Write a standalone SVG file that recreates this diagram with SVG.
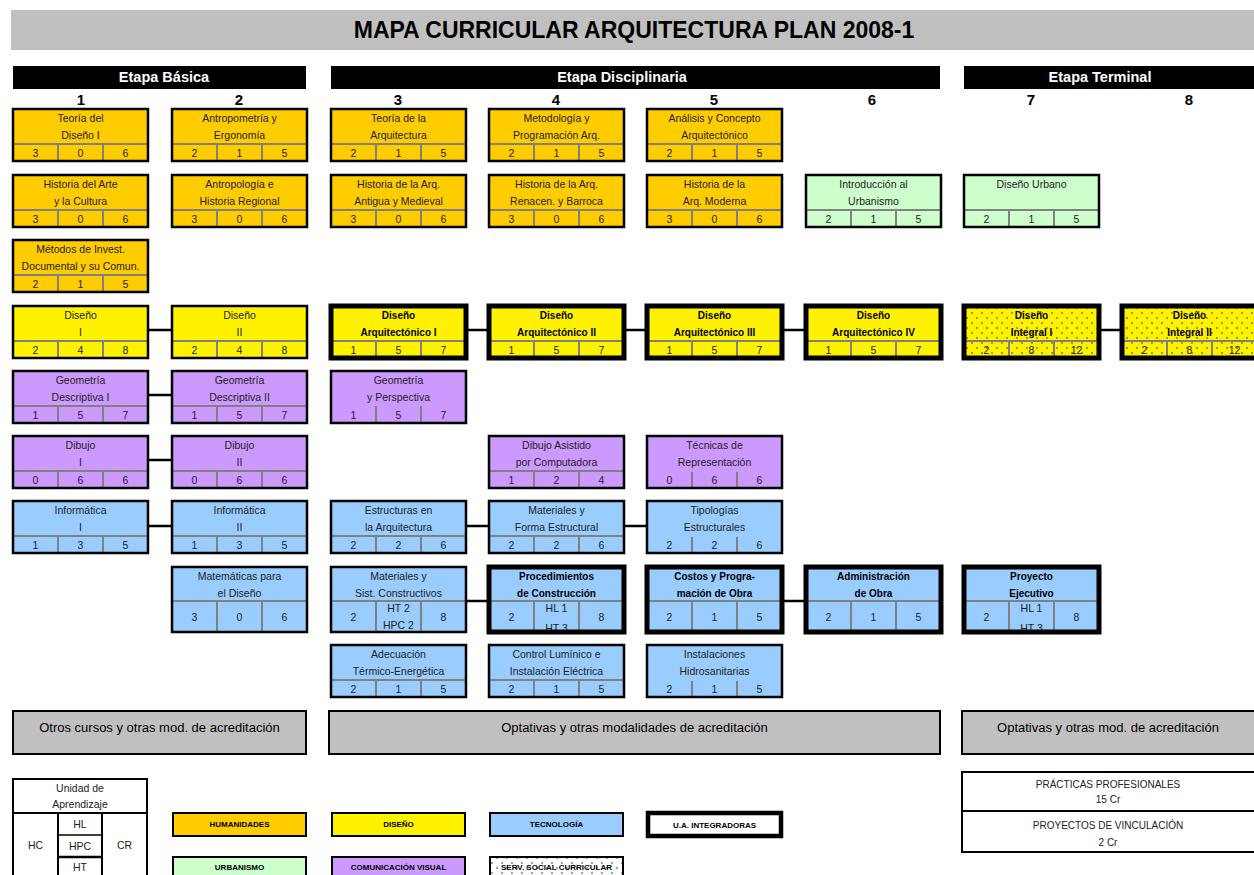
<svg xmlns="http://www.w3.org/2000/svg" width="1254" height="875" viewBox="0 0 1254 875">
<defs>
<pattern id="dots" width="10" height="10" patternUnits="userSpaceOnUse">
<circle cx="2" cy="3" r="0.7" fill="#000"/>
<circle cx="7" cy="8" r="0.7" fill="#000"/>
</pattern>
</defs>
<style>
.hum{fill:#FFCC00}
.dis{fill:#FFF200}
.urb{fill:#CCFFCC}
.com{fill:#CC99FF}
.tec{fill:#99CCFF}
.wht{fill:#FFFFFF}
.gry{fill:#C0C0C0}
.bd{fill:none;stroke:#000;stroke-width:2.5}
.bdk{fill:none;stroke:#000;stroke-width:5}
.dv{stroke:#808080;stroke-width:2}
.t{font-family:"Liberation Sans",Arial,sans-serif;font-size:10.5px;fill:#222;text-anchor:middle}
.tb{font-family:"Liberation Sans",Arial,sans-serif;font-size:10px;font-weight:bold;fill:#000;text-anchor:middle}
.hd{font-family:"Liberation Sans",Arial,sans-serif;font-size:14.5px;font-weight:bold;fill:#fff;text-anchor:middle}
.cn{font-family:"Liberation Sans",Arial,sans-serif;font-size:15px;font-weight:bold;fill:#000;text-anchor:middle}
.op{font-family:"Liberation Sans",Arial,sans-serif;font-size:13px;fill:#000;text-anchor:middle}
.lg{font-family:"Liberation Sans",Arial,sans-serif;font-size:8px;font-weight:bold;fill:#000;text-anchor:middle}
.sm{font-family:"Liberation Sans",Arial,sans-serif;font-size:10px;fill:#222;text-anchor:middle}
.cl{stroke:#000;stroke-width:2.5}
</style>
<rect width="1254" height="875" fill="#fff"/>

<g id="title">
<rect x="11" y="10" width="1243" height="40" class="gry"/>
<text x="634" y="38" font-family="Liberation Sans, Arial, sans-serif" font-size="23" font-weight="bold" text-anchor="middle" fill="#000">MAPA CURRICULAR ARQUITECTURA PLAN 2008-1</text>
</g>

<g id="stages">
<rect x="13" y="66" width="293" height="23" fill="#000"/>
<text x="164" y="82" class="hd">Etapa Básica</text>
<rect x="331" y="66" width="609" height="23" fill="#000"/>
<text x="622" y="82" class="hd">Etapa Disciplinaria</text>
<rect x="964" y="66" width="290" height="23" fill="#000"/>
<text x="1100" y="82" class="hd">Etapa Terminal</text>
</g>

<g id="semesters">
<text x="81" y="105" class="cn">1</text>
<text x="239" y="105" class="cn">2</text>
<text x="398" y="105" class="cn">3</text>
<text x="556" y="105" class="cn">4</text>
<text x="714" y="105" class="cn">5</text>
<text x="872" y="105" class="cn">6</text>
<text x="1031" y="105" class="cn">7</text>
<text x="1189" y="105" class="cn">8</text>
</g>

<g id="connectors">
<line x1="148" y1="330" x2="172" y2="330" class="cl"/>
<line x1="148" y1="395" x2="172" y2="395" class="cl"/>
<line x1="148" y1="460" x2="172" y2="460" class="cl"/>
<line x1="148" y1="526" x2="172" y2="526" class="cl"/>
<line x1="466" y1="330" x2="489" y2="330" class="cl"/>
<line x1="624" y1="330" x2="647" y2="330" class="cl"/>
<line x1="782" y1="330" x2="806" y2="330" class="cl"/>
<line x1="1099" y1="330" x2="1122" y2="330" class="cl"/>
<line x1="466" y1="526" x2="489" y2="526" class="cl"/>
<line x1="624" y1="526" x2="647" y2="526" class="cl"/>
<line x1="466" y1="601" x2="489" y2="601" class="cl"/>
<line x1="782" y1="601" x2="806" y2="601" class="cl"/>
</g>

<!-- Column 1 -->
<g id="teoria-diseno-1">
<rect x="13" y="109" width="135" height="52" class="hum"/>
<text x="80.5" y="122" class="t">Teoría del</text><text x="80.5" y="139" class="t">Diseño I</text>
<line x1="13" y1="144" x2="148" y2="144" class="dv"/><line x1="58" y1="144" x2="58" y2="161" class="dv"/><line x1="103" y1="144" x2="103" y2="161" class="dv"/>
<text x="35.5" y="157" class="t">3</text><text x="80.5" y="157" class="t">0</text><text x="125.5" y="157" class="t">6</text>
<rect x="13" y="109" width="135" height="52" class="bd"/>
</g>
<g id="historia-arte">
<rect x="13" y="175" width="135" height="52" class="hum"/>
<text x="80.5" y="188" class="t">Historia del Arte</text><text x="80.5" y="205" class="t">y la Cultura</text>
<line x1="13" y1="210" x2="148" y2="210" class="dv"/><line x1="58" y1="210" x2="58" y2="227" class="dv"/><line x1="103" y1="210" x2="103" y2="227" class="dv"/>
<text x="35.5" y="223" class="t">3</text><text x="80.5" y="223" class="t">0</text><text x="125.5" y="223" class="t">6</text>
<rect x="13" y="175" width="135" height="52" class="bd"/>
</g>
<g id="metodos-invest">
<rect x="13" y="240" width="135" height="52" class="hum"/>
<text x="80.5" y="253" class="t">Métodos de Invest.</text><text x="80.5" y="270" class="t">Documental y su Comun.</text>
<line x1="13" y1="275" x2="148" y2="275" class="dv"/><line x1="58" y1="275" x2="58" y2="292" class="dv"/><line x1="103" y1="275" x2="103" y2="292" class="dv"/>
<text x="35.5" y="288" class="t">2</text><text x="80.5" y="288" class="t">1</text><text x="125.5" y="288" class="t">5</text>
<rect x="13" y="240" width="135" height="52" class="bd"/>
</g>
<g id="diseno-1">
<rect x="13" y="306" width="135" height="52" class="dis"/>
<text x="80.5" y="319" class="t">Diseño</text><text x="80.5" y="336" class="t">I</text>
<line x1="13" y1="341" x2="148" y2="341" class="dv"/><line x1="58" y1="341" x2="58" y2="358" class="dv"/><line x1="103" y1="341" x2="103" y2="358" class="dv"/>
<text x="35.5" y="354" class="t">2</text><text x="80.5" y="354" class="t">4</text><text x="125.5" y="354" class="t">8</text>
<rect x="13" y="306" width="135" height="52" class="bd"/>
</g>
<g id="geometria-1">
<rect x="13" y="371" width="135" height="52" class="com"/>
<text x="80.5" y="384" class="t">Geometría</text><text x="80.5" y="401" class="t">Descriptiva I</text>
<line x1="13" y1="406" x2="148" y2="406" class="dv"/><line x1="58" y1="406" x2="58" y2="423" class="dv"/><line x1="103" y1="406" x2="103" y2="423" class="dv"/>
<text x="35.5" y="419" class="t">1</text><text x="80.5" y="419" class="t">5</text><text x="125.5" y="419" class="t">7</text>
<rect x="13" y="371" width="135" height="52" class="bd"/>
</g>
<g id="dibujo-1">
<rect x="13" y="436" width="135" height="52" class="com"/>
<text x="80.5" y="449" class="t">Dibujo</text><text x="80.5" y="466" class="t">I</text>
<line x1="13" y1="471" x2="148" y2="471" class="dv"/><line x1="58" y1="471" x2="58" y2="488" class="dv"/><line x1="103" y1="471" x2="103" y2="488" class="dv"/>
<text x="35.5" y="484" class="t">0</text><text x="80.5" y="484" class="t">6</text><text x="125.5" y="484" class="t">6</text>
<rect x="13" y="436" width="135" height="52" class="bd"/>
</g>
<g id="informatica-1">
<rect x="13" y="501" width="135" height="52" class="tec"/>
<text x="80.5" y="514" class="t">Informática</text><text x="80.5" y="531" class="t">I</text>
<line x1="13" y1="536" x2="148" y2="536" class="dv"/><line x1="58" y1="536" x2="58" y2="553" class="dv"/><line x1="103" y1="536" x2="103" y2="553" class="dv"/>
<text x="35.5" y="549" class="t">1</text><text x="80.5" y="549" class="t">3</text><text x="125.5" y="549" class="t">5</text>
<rect x="13" y="501" width="135" height="52" class="bd"/>
</g>

<!-- Column 2 -->
<g id="antropometria">
<rect x="172" y="109" width="135" height="52" class="hum"/>
<text x="239.5" y="122" class="t">Antropometría y</text><text x="239.5" y="139" class="t">Ergonomía</text>
<line x1="172" y1="144" x2="307" y2="144" class="dv"/><line x1="217" y1="144" x2="217" y2="161" class="dv"/><line x1="262" y1="144" x2="262" y2="161" class="dv"/>
<text x="194.5" y="157" class="t">2</text><text x="239.5" y="157" class="t">1</text><text x="284.5" y="157" class="t">5</text>
<rect x="172" y="109" width="135" height="52" class="bd"/>
</g>
<g id="antropologia">
<rect x="172" y="175" width="135" height="52" class="hum"/>
<text x="239.5" y="188" class="t">Antropología e</text><text x="239.5" y="205" class="t">Historia Regional</text>
<line x1="172" y1="210" x2="307" y2="210" class="dv"/><line x1="217" y1="210" x2="217" y2="227" class="dv"/><line x1="262" y1="210" x2="262" y2="227" class="dv"/>
<text x="194.5" y="223" class="t">3</text><text x="239.5" y="223" class="t">0</text><text x="284.5" y="223" class="t">6</text>
<rect x="172" y="175" width="135" height="52" class="bd"/>
</g>
<g id="diseno-2">
<rect x="172" y="306" width="135" height="52" class="dis"/>
<text x="239.5" y="319" class="t">Diseño</text><text x="239.5" y="336" class="t">II</text>
<line x1="172" y1="341" x2="307" y2="341" class="dv"/><line x1="217" y1="341" x2="217" y2="358" class="dv"/><line x1="262" y1="341" x2="262" y2="358" class="dv"/>
<text x="194.5" y="354" class="t">2</text><text x="239.5" y="354" class="t">4</text><text x="284.5" y="354" class="t">8</text>
<rect x="172" y="306" width="135" height="52" class="bd"/>
</g>
<g id="geometria-2">
<rect x="172" y="371" width="135" height="52" class="com"/>
<text x="239.5" y="384" class="t">Geometría</text><text x="239.5" y="401" class="t">Descriptiva II</text>
<line x1="172" y1="406" x2="307" y2="406" class="dv"/><line x1="217" y1="406" x2="217" y2="423" class="dv"/><line x1="262" y1="406" x2="262" y2="423" class="dv"/>
<text x="194.5" y="419" class="t">1</text><text x="239.5" y="419" class="t">5</text><text x="284.5" y="419" class="t">7</text>
<rect x="172" y="371" width="135" height="52" class="bd"/>
</g>
<g id="dibujo-2">
<rect x="172" y="436" width="135" height="52" class="com"/>
<text x="239.5" y="449" class="t">Dibujo</text><text x="239.5" y="466" class="t">II</text>
<line x1="172" y1="471" x2="307" y2="471" class="dv"/><line x1="217" y1="471" x2="217" y2="488" class="dv"/><line x1="262" y1="471" x2="262" y2="488" class="dv"/>
<text x="194.5" y="484" class="t">0</text><text x="239.5" y="484" class="t">6</text><text x="284.5" y="484" class="t">6</text>
<rect x="172" y="436" width="135" height="52" class="bd"/>
</g>
<g id="informatica-2">
<rect x="172" y="501" width="135" height="52" class="tec"/>
<text x="239.5" y="514" class="t">Informática</text><text x="239.5" y="531" class="t">II</text>
<line x1="172" y1="536" x2="307" y2="536" class="dv"/><line x1="217" y1="536" x2="217" y2="553" class="dv"/><line x1="262" y1="536" x2="262" y2="553" class="dv"/>
<text x="194.5" y="549" class="t">1</text><text x="239.5" y="549" class="t">3</text><text x="284.5" y="549" class="t">5</text>
<rect x="172" y="501" width="135" height="52" class="bd"/>
</g>
<g id="matematicas">
<rect x="172" y="567" width="135" height="65" class="tec"/>
<text x="239.5" y="580" class="t">Matemáticas para</text><text x="239.5" y="597" class="t">el Diseño</text>
<line x1="172" y1="601" x2="307" y2="601" class="dv"/><line x1="217" y1="601" x2="217" y2="632" class="dv"/><line x1="262" y1="601" x2="262" y2="632" class="dv"/>
<text x="194.5" y="621" class="t">3</text><text x="239.5" y="621" class="t">0</text><text x="284.5" y="621" class="t">6</text>
<rect x="172" y="567" width="135" height="65" class="bd"/>
</g>

<!-- Column 3 -->
<g id="teoria-arq">
<rect x="331" y="109" width="135" height="52" class="hum"/>
<text x="398.5" y="122" class="t">Teoría de la</text><text x="398.5" y="139" class="t">Arquitectura</text>
<line x1="331" y1="144" x2="466" y2="144" class="dv"/><line x1="376" y1="144" x2="376" y2="161" class="dv"/><line x1="421" y1="144" x2="421" y2="161" class="dv"/>
<text x="353.5" y="157" class="t">2</text><text x="398.5" y="157" class="t">1</text><text x="443.5" y="157" class="t">5</text>
<rect x="331" y="109" width="135" height="52" class="bd"/>
</g>
<g id="historia-arq-antigua">
<rect x="331" y="175" width="135" height="52" class="hum"/>
<text x="398.5" y="188" class="t">Historia de la Arq.</text><text x="398.5" y="205" class="t">Antigua y Medieval</text>
<line x1="331" y1="210" x2="466" y2="210" class="dv"/><line x1="376" y1="210" x2="376" y2="227" class="dv"/><line x1="421" y1="210" x2="421" y2="227" class="dv"/>
<text x="353.5" y="223" class="t">3</text><text x="398.5" y="223" class="t">0</text><text x="443.5" y="223" class="t">6</text>
<rect x="331" y="175" width="135" height="52" class="bd"/>
</g>
<g id="diseno-arq-1">
<rect x="331" y="306" width="135" height="52" class="dis"/>
<text x="398.5" y="319" class="tb">Diseño</text><text x="398.5" y="336" class="tb">Arquitectónico I</text>
<line x1="331" y1="341" x2="466" y2="341" class="dv"/><line x1="376" y1="341" x2="376" y2="358" class="dv"/><line x1="421" y1="341" x2="421" y2="358" class="dv"/>
<text x="353.5" y="354" class="t">1</text><text x="398.5" y="354" class="t">5</text><text x="443.5" y="354" class="t">7</text>
<rect x="331" y="306" width="135" height="52" class="bdk"/>
</g>
<g id="geometria-perspectiva">
<rect x="331" y="371" width="135" height="52" class="com"/>
<text x="398.5" y="384" class="t">Geometría</text><text x="398.5" y="401" class="t">y Perspectiva</text>
<line x1="376" y1="406" x2="376" y2="423" class="dv"/><line x1="421" y1="406" x2="421" y2="423" class="dv"/>
<text x="353.5" y="419" class="t">1</text><text x="398.5" y="419" class="t">5</text><text x="443.5" y="419" class="t">7</text>
<rect x="331" y="371" width="135" height="52" class="bd"/>
</g>
<g id="estructuras-arq">
<rect x="331" y="501" width="135" height="52" class="tec"/>
<text x="398.5" y="514" class="t">Estructuras en</text><text x="398.5" y="531" class="t">la Arquitectura</text>
<line x1="331" y1="536" x2="466" y2="536" class="dv"/><line x1="376" y1="536" x2="376" y2="553" class="dv"/><line x1="421" y1="536" x2="421" y2="553" class="dv"/>
<text x="353.5" y="549" class="t">2</text><text x="398.5" y="549" class="t">2</text><text x="443.5" y="549" class="t">6</text>
<rect x="331" y="501" width="135" height="52" class="bd"/>
</g>
<g id="materiales-sist">
<rect x="331" y="567" width="135" height="65" class="tec"/>
<text x="398.5" y="580" class="t">Materiales y</text><text x="398.5" y="597" class="t">Sist. Constructivos</text>
<text x="398.5" y="612" class="t">HT 2</text><text x="398.5" y="629" class="t">HPC 2</text>
<line x1="331" y1="601" x2="466" y2="601" class="dv"/><line x1="376" y1="601" x2="376" y2="632" class="dv"/><line x1="421" y1="601" x2="421" y2="632" class="dv"/>
<text x="353.5" y="621" class="t">2</text><text x="443.5" y="621" class="t">8</text>
<rect x="331" y="567" width="135" height="65" class="bd"/>
</g>
<g id="adecuacion">
<rect x="331" y="645" width="135" height="52" class="tec"/>
<text x="398.5" y="658" class="t">Adecuación</text><text x="398.5" y="675" class="t">Térmico-Energética</text>
<line x1="331" y1="680" x2="466" y2="680" class="dv"/><line x1="376" y1="680" x2="376" y2="697" class="dv"/><line x1="421" y1="680" x2="421" y2="697" class="dv"/>
<text x="353.5" y="693" class="t">2</text><text x="398.5" y="693" class="t">1</text><text x="443.5" y="693" class="t">5</text>
<rect x="331" y="645" width="135" height="52" class="bd"/>
</g>

<!-- Column 4 -->
<g id="metodologia">
<rect x="489" y="109" width="135" height="52" class="hum"/>
<text x="556.5" y="122" class="t">Metodología y</text><text x="556.5" y="139" class="t">Programación Arq.</text>
<line x1="489" y1="144" x2="624" y2="144" class="dv"/><line x1="534" y1="144" x2="534" y2="161" class="dv"/><line x1="579" y1="144" x2="579" y2="161" class="dv"/>
<text x="511.5" y="157" class="t">2</text><text x="556.5" y="157" class="t">1</text><text x="601.5" y="157" class="t">5</text>
<rect x="489" y="109" width="135" height="52" class="bd"/>
</g>
<g id="historia-arq-renacen">
<rect x="489" y="175" width="135" height="52" class="hum"/>
<text x="556.5" y="188" class="t">Historia de la Arq.</text><text x="556.5" y="205" class="t">Renacen. y Barroca</text>
<line x1="489" y1="210" x2="624" y2="210" class="dv"/><line x1="534" y1="210" x2="534" y2="227" class="dv"/><line x1="579" y1="210" x2="579" y2="227" class="dv"/>
<text x="511.5" y="223" class="t">3</text><text x="556.5" y="223" class="t">0</text><text x="601.5" y="223" class="t">6</text>
<rect x="489" y="175" width="135" height="52" class="bd"/>
</g>
<g id="diseno-arq-2">
<rect x="489" y="306" width="135" height="52" class="dis"/>
<text x="556.5" y="319" class="tb">Diseño</text><text x="556.5" y="336" class="tb">Arquitectónico II</text>
<line x1="489" y1="341" x2="624" y2="341" class="dv"/><line x1="534" y1="341" x2="534" y2="358" class="dv"/><line x1="579" y1="341" x2="579" y2="358" class="dv"/>
<text x="511.5" y="354" class="t">1</text><text x="556.5" y="354" class="t">5</text><text x="601.5" y="354" class="t">7</text>
<rect x="489" y="306" width="135" height="52" class="bdk"/>
</g>
<g id="dibujo-asistido">
<rect x="489" y="436" width="135" height="52" class="com"/>
<text x="556.5" y="449" class="t">Dibujo Asistido</text><text x="556.5" y="466" class="t">por Computadora</text>
<line x1="489" y1="471" x2="624" y2="471" class="dv"/><line x1="534" y1="471" x2="534" y2="488" class="dv"/><line x1="579" y1="471" x2="579" y2="488" class="dv"/>
<text x="511.5" y="484" class="t">1</text><text x="556.5" y="484" class="t">2</text><text x="601.5" y="484" class="t">4</text>
<rect x="489" y="436" width="135" height="52" class="bd"/>
</g>
<g id="materiales-forma">
<rect x="489" y="501" width="135" height="52" class="tec"/>
<text x="556.5" y="514" class="t">Materiales y</text><text x="556.5" y="531" class="t">Forma Estructural</text>
<line x1="489" y1="536" x2="624" y2="536" class="dv"/><line x1="534" y1="536" x2="534" y2="553" class="dv"/><line x1="579" y1="536" x2="579" y2="553" class="dv"/>
<text x="511.5" y="549" class="t">2</text><text x="556.5" y="549" class="t">2</text><text x="601.5" y="549" class="t">6</text>
<rect x="489" y="501" width="135" height="52" class="bd"/>
</g>
<g id="procedimientos">
<rect x="489" y="567" width="135" height="65" class="tec"/>
<text x="556.5" y="580" class="tb">Procedimientos</text><text x="556.5" y="597" class="tb">de Construcción</text>
<text x="556.5" y="612" class="t">HL 1</text><text x="556.5" y="632" class="t">HT 3</text>
<line x1="489" y1="601" x2="624" y2="601" class="dv"/><line x1="534" y1="601" x2="534" y2="632" class="dv"/><line x1="579" y1="601" x2="579" y2="632" class="dv"/>
<text x="511.5" y="621" class="t">2</text><text x="601.5" y="621" class="t">8</text>
<rect x="489" y="567" width="135" height="65" class="bdk"/>
</g>
<g id="control-luminico">
<rect x="489" y="645" width="135" height="52" class="tec"/>
<text x="556.5" y="658" class="t">Control Lumínico e</text><text x="556.5" y="675" class="t">Instalación Eléctrica</text>
<line x1="489" y1="680" x2="624" y2="680" class="dv"/><line x1="534" y1="680" x2="534" y2="697" class="dv"/><line x1="579" y1="680" x2="579" y2="697" class="dv"/>
<text x="511.5" y="693" class="t">2</text><text x="556.5" y="693" class="t">1</text><text x="601.5" y="693" class="t">5</text>
<rect x="489" y="645" width="135" height="52" class="bd"/>
</g>

<!-- Column 5 -->
<g id="analisis-concepto">
<rect x="647" y="109" width="135" height="52" class="hum"/>
<text x="714.5" y="122" class="t">Análisis y Concepto</text><text x="714.5" y="139" class="t">Arquitectónico</text>
<line x1="647" y1="144" x2="782" y2="144" class="dv"/><line x1="692" y1="144" x2="692" y2="161" class="dv"/><line x1="737" y1="144" x2="737" y2="161" class="dv"/>
<text x="669.5" y="157" class="t">2</text><text x="714.5" y="157" class="t">1</text><text x="759.5" y="157" class="t">5</text>
<rect x="647" y="109" width="135" height="52" class="bd"/>
</g>
<g id="historia-arq-moderna">
<rect x="647" y="175" width="135" height="52" class="hum"/>
<text x="714.5" y="188" class="t">Historia de la</text><text x="714.5" y="205" class="t">Arq. Moderna</text>
<line x1="647" y1="210" x2="782" y2="210" class="dv"/><line x1="692" y1="210" x2="692" y2="227" class="dv"/><line x1="737" y1="210" x2="737" y2="227" class="dv"/>
<text x="669.5" y="223" class="t">3</text><text x="714.5" y="223" class="t">0</text><text x="759.5" y="223" class="t">6</text>
<rect x="647" y="175" width="135" height="52" class="bd"/>
</g>
<g id="diseno-arq-3">
<rect x="647" y="306" width="135" height="52" class="dis"/>
<text x="714.5" y="319" class="tb">Diseño</text><text x="714.5" y="336" class="tb">Arquitectónico III</text>
<line x1="647" y1="341" x2="782" y2="341" class="dv"/><line x1="692" y1="341" x2="692" y2="358" class="dv"/><line x1="737" y1="341" x2="737" y2="358" class="dv"/>
<text x="669.5" y="354" class="t">1</text><text x="714.5" y="354" class="t">5</text><text x="759.5" y="354" class="t">7</text>
<rect x="647" y="306" width="135" height="52" class="bdk"/>
</g>
<g id="tecnicas-representacion">
<rect x="647" y="436" width="135" height="52" class="com"/>
<text x="714.5" y="449" class="t">Técnicas de</text><text x="714.5" y="466" class="t">Representación</text>
<line x1="692" y1="472" x2="692" y2="488" class="dv"/><line x1="737" y1="472" x2="737" y2="488" class="dv"/>
<text x="669.5" y="484" class="t">0</text><text x="714.5" y="484" class="t">6</text><text x="759.5" y="484" class="t">6</text>
<rect x="647" y="436" width="135" height="52" class="bd"/>
</g>
<g id="tipologias">
<rect x="647" y="501" width="135" height="52" class="tec"/>
<text x="714.5" y="514" class="t">Tipologías</text><text x="714.5" y="531" class="t">Estructurales</text>
<line x1="692" y1="537" x2="692" y2="553" class="dv"/><line x1="737" y1="537" x2="737" y2="553" class="dv"/>
<text x="669.5" y="549" class="t">2</text><text x="714.5" y="549" class="t">2</text><text x="759.5" y="549" class="t">6</text>
<rect x="647" y="501" width="135" height="52" class="bd"/>
</g>
<g id="costos">
<rect x="647" y="567" width="135" height="65" class="tec"/>
<text x="714.5" y="580" class="tb">Costos y Progra-</text><text x="714.5" y="597" class="tb">mación de Obra</text>
<line x1="647" y1="601" x2="782" y2="601" class="dv"/><line x1="692" y1="601" x2="692" y2="632" class="dv"/><line x1="737" y1="601" x2="737" y2="632" class="dv"/>
<text x="669.5" y="621" class="t">2</text><text x="714.5" y="621" class="t">1</text><text x="759.5" y="621" class="t">5</text>
<rect x="647" y="567" width="135" height="65" class="bdk"/>
</g>
<g id="instalaciones">
<rect x="647" y="645" width="135" height="52" class="tec"/>
<text x="714.5" y="658" class="t">Instalaciones</text><text x="714.5" y="675" class="t">Hidrosanitarias</text>
<line x1="692" y1="681" x2="692" y2="697" class="dv"/><line x1="737" y1="681" x2="737" y2="697" class="dv"/>
<text x="669.5" y="693" class="t">2</text><text x="714.5" y="693" class="t">1</text><text x="759.5" y="693" class="t">5</text>
<rect x="647" y="645" width="135" height="52" class="bd"/>
</g>

<!-- Column 6 -->
<g id="intro-urbanismo">
<rect x="806" y="175" width="135" height="52" class="urb"/>
<text x="873.5" y="188" class="t">Introducción al</text><text x="873.5" y="205" class="t">Urbanismo</text>
<line x1="806" y1="210" x2="941" y2="210" class="dv"/><line x1="851" y1="210" x2="851" y2="227" class="dv"/><line x1="896" y1="210" x2="896" y2="227" class="dv"/>
<text x="828.5" y="223" class="t">2</text><text x="873.5" y="223" class="t">1</text><text x="918.5" y="223" class="t">5</text>
<rect x="806" y="175" width="135" height="52" class="bd"/>
</g>
<g id="diseno-arq-4">
<rect x="806" y="306" width="135" height="52" class="dis"/>
<text x="873.5" y="319" class="tb">Diseño</text><text x="873.5" y="336" class="tb">Arquitectónico IV</text>
<line x1="806" y1="341" x2="941" y2="341" class="dv"/><line x1="851" y1="341" x2="851" y2="358" class="dv"/><line x1="896" y1="341" x2="896" y2="358" class="dv"/>
<text x="828.5" y="354" class="t">1</text><text x="873.5" y="354" class="t">5</text><text x="918.5" y="354" class="t">7</text>
<rect x="806" y="306" width="135" height="52" class="bdk"/>
</g>
<g id="administracion">
<rect x="806" y="567" width="135" height="65" class="tec"/>
<text x="873.5" y="580" class="tb">Administración</text><text x="873.5" y="597" class="tb">de Obra</text>
<line x1="806" y1="601" x2="941" y2="601" class="dv"/><line x1="851" y1="601" x2="851" y2="632" class="dv"/><line x1="896" y1="601" x2="896" y2="632" class="dv"/>
<text x="828.5" y="621" class="t">2</text><text x="873.5" y="621" class="t">1</text><text x="918.5" y="621" class="t">5</text>
<rect x="806" y="567" width="135" height="65" class="bdk"/>
</g>

<!-- Column 7 -->
<g id="diseno-urbano">
<rect x="964" y="175" width="135" height="52" class="urb"/>
<text x="1031.5" y="188" class="t">Diseño Urbano</text>
<line x1="964" y1="210" x2="1099" y2="210" class="dv"/><line x1="1009" y1="210" x2="1009" y2="227" class="dv"/><line x1="1054" y1="210" x2="1054" y2="227" class="dv"/>
<text x="986.5" y="223" class="t">2</text><text x="1031.5" y="223" class="t">1</text><text x="1076.5" y="223" class="t">5</text>
<rect x="964" y="175" width="135" height="52" class="bd"/>
</g>
<g id="diseno-integral-1">
<rect x="964" y="306" width="135" height="52" class="dis"/>
<rect x="964" y="306" width="135" height="52" fill="url(#dots)"/>
<text x="1031.5" y="319" class="tb">Diseño</text><text x="1031.5" y="336" class="tb">Integral I</text>
<line x1="964" y1="341" x2="1099" y2="341" class="dv"/><line x1="1009" y1="341" x2="1009" y2="358" class="dv"/><line x1="1054" y1="341" x2="1054" y2="358" class="dv"/>
<text x="986.5" y="354" class="t">2</text><text x="1031.5" y="354" class="t">8</text><text x="1076.5" y="354" class="t">12</text>
<rect x="964" y="306" width="135" height="52" class="bdk"/>
</g>
<g id="proyecto-ejecutivo">
<rect x="964" y="567" width="135" height="65" class="tec"/>
<text x="1031.5" y="580" class="tb">Proyecto</text><text x="1031.5" y="597" class="tb">Ejecutivo</text>
<text x="1031.5" y="612" class="t">HL 1</text><text x="1031.5" y="632" class="t">HT 3</text>
<line x1="964" y1="601" x2="1099" y2="601" class="dv"/><line x1="1009" y1="601" x2="1009" y2="632" class="dv"/><line x1="1054" y1="601" x2="1054" y2="632" class="dv"/>
<text x="986.5" y="621" class="t">2</text><text x="1076.5" y="621" class="t">8</text>
<rect x="964" y="567" width="135" height="65" class="bdk"/>
</g>

<!-- Column 8 -->
<g id="diseno-integral-2">
<rect x="1122" y="306" width="135" height="52" class="dis"/>
<rect x="1122" y="306" width="135" height="52" fill="url(#dots)"/>
<text x="1189.5" y="319" class="tb">Diseño</text><text x="1189.5" y="336" class="tb">Integral II</text>
<line x1="1122" y1="341" x2="1257" y2="341" class="dv"/><line x1="1167" y1="341" x2="1167" y2="358" class="dv"/><line x1="1212" y1="341" x2="1212" y2="358" class="dv"/>
<text x="1144.5" y="354" class="t">2</text><text x="1189.5" y="354" class="t">8</text><text x="1234.5" y="354" class="t">12</text>
<rect x="1122" y="306" width="135" height="52" class="bdk"/>
</g>

<!-- Bottom optional blocks -->
<g id="otros-cursos">
<rect x="13" y="711" width="293" height="43" class="gry" stroke="#000" stroke-width="2"/>
<text x="159.5" y="732" class="op">Otros cursos y otras mod. de acreditación</text>
</g>
<g id="optativas-disciplinaria">
<rect x="329" y="711" width="611" height="43" class="gry" stroke="#000" stroke-width="2"/>
<text x="634.5" y="732" class="op">Optativas y otras modalidades de acreditación</text>
</g>
<g id="optativas-terminal">
<rect x="962" y="711" width="294" height="43" class="gry" stroke="#000" stroke-width="2"/>
<text x="1108" y="732" class="op">Optativas y otras mod. de acreditación</text>
</g>

<g id="practicas">
<rect x="962" y="772" width="294" height="80" fill="#fff" stroke="#000" stroke-width="2"/>
<line x1="962" y1="811" x2="1256" y2="811" stroke="#000" stroke-width="2"/>
<text x="1108" y="788" class="sm">PRÁCTICAS PROFESIONALES</text>
<text x="1108" y="803" class="sm">15 Cr</text>
<text x="1108" y="829" class="sm">PROYECTOS DE VINCULACIÓN</text>
<text x="1108" y="846" class="sm">2 Cr</text>
</g>

<!-- Legend -->
<g id="legend-unidad">
<rect x="13" y="779" width="134" height="100" fill="#fff" stroke="#000" stroke-width="2"/>
<line x1="13" y1="813" x2="147" y2="813" stroke="#000" stroke-width="2"/>
<line x1="58" y1="813" x2="58" y2="879" stroke="#000" stroke-width="2"/>
<line x1="102" y1="813" x2="102" y2="879" stroke="#000" stroke-width="2"/>
<line x1="58" y1="835" x2="102" y2="835" stroke="#000" stroke-width="1.5"/>
<line x1="58" y1="857" x2="102" y2="857" stroke="#000" stroke-width="2.5"/>
<text x="80" y="792" class="t">Unidad de</text>
<text x="80" y="808" class="t">Aprendizaje</text>
<text x="80" y="828" class="t">HL</text>
<text x="80" y="850" class="t">HPC</text>
<text x="80" y="871" class="t">HT</text>
<text x="35.5" y="849" class="t">HC</text>
<text x="124.5" y="849" class="t">CR</text>
</g>
<g id="legend-humanidades">
<rect x="173" y="813" width="133" height="23" class="hum" stroke="#000" stroke-width="2"/>
<text x="239.5" y="827" class="lg">HUMANIDADES</text>
</g>
<g id="legend-diseno">
<rect x="332" y="813" width="133" height="23" class="dis" stroke="#000" stroke-width="2"/>
<text x="398.5" y="827" class="lg">DISEÑO</text>
</g>
<g id="legend-tecnologia">
<rect x="490" y="813" width="133" height="23" class="tec" stroke="#000" stroke-width="2"/>
<text x="556.5" y="827" class="lg">TECNOLOGÍA</text>
</g>
<g id="legend-integradoras">
<rect x="648" y="813" width="133" height="23" fill="#fff" stroke="#000" stroke-width="4.5"/>
<text x="714.5" y="828" class="lg">U.A. INTEGRADORAS</text>
</g>
<g id="legend-urbanismo">
<rect x="173" y="857" width="133" height="23" class="urb" stroke="#000" stroke-width="2"/>
<text x="239.5" y="870" class="lg">URBANISMO</text>
</g>
<g id="legend-comunicacion">
<rect x="332" y="857" width="133" height="23" class="com" stroke="#000" stroke-width="2"/>
<text x="398.5" y="870" class="lg">COMUNICACIÓN VISUAL</text>
</g>
<g id="legend-servicio">
<rect x="490" y="857" width="133" height="23" fill="#fff" stroke="#000" stroke-width="2"/>
<rect x="491" y="858" width="131" height="21" fill="url(#dots)"/>
<text x="556.5" y="870" class="lg">SERV. SOCIAL CURRICULAR</text>
</g>
</svg>
